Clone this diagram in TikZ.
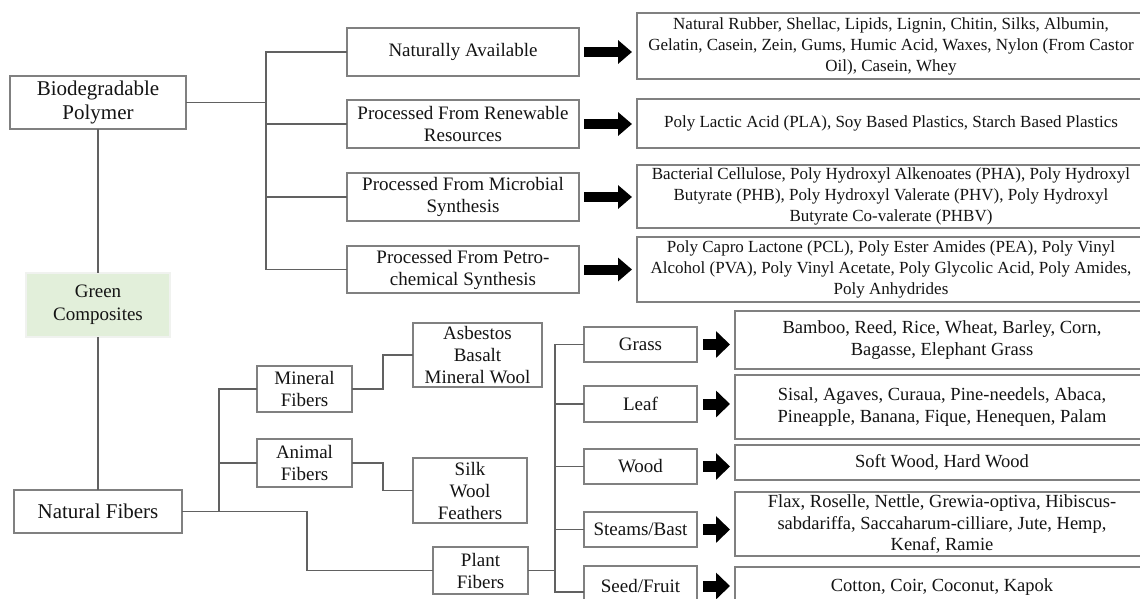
\documentclass[tikz,border=0pt]{standalone}
\usepackage{fontspec}
\setmainfont{Liberation Serif}
\usepackage{xcolor}
\usetikzlibrary{arrows.meta}
\definecolor{greenfill}{HTML}{E2EFDA}
\tikzset{x=1pt, y=-1pt,
 box/.style={draw=black!50, line width=1.1pt, fill=white, text=black!92,
   align=center, inner sep=1pt, outer sep=0pt, font=\fontsize{19}{22}\selectfont},
 rootbox/.style={box, font=\fontsize{21}{24}\selectfont},
 greenbox/.style={rootbox, draw=greenfill!80!black!20, fill=greenfill, font=\fontsize{19}{23}\selectfont},
 listbox/.style={box, font=\fontsize{17}{21}\selectfont},
 leaflist/.style={box, font=\fontsize{18.5}{21.5}\selectfont},
 link/.style={draw=black!62, line width=1.2pt},
 fatarrow/.style={draw=black, line width=10pt, -{Triangle[length=14pt,width=23pt]}},
 fatarrowb/.style={draw=black, line width=11pt, -{Triangle[length=14pt,width=26pt]}},
 }

\begin{document}
\begin{tikzpicture}
        \useasboundingbox (0,0) rectangle (1140,598);
        \clip (0,0) rectangle (1140,598);
        \node[rootbox, minimum width=176, minimum height=53] (bp) at (98,102.5) {Biodegradable\\Polymer};
        \node[greenbox, minimum width=144, minimum height=64] (gc) at (98,305) {Green\\Composites};
        \node[rootbox, minimum width=168, minimum height=43] (nf) at (98,511.5) {Natural Fibers};
        \draw[link] (bp) -- (gc);
        \draw[link] (gc) -- (nf);

        \node[box, minimum width=232, minimum height=48] (na) at (463,52) {Naturally Available};
        \node[box, minimum width=232, minimum height=48] (prr) at (463,124) {Processed From Renewable\\Resources};
        \node[box, minimum width=232, minimum height=48] (pms) at (463,197) {Processed From Microbial\\Synthesis};
        \node[box, minimum width=232, minimum height=47] (ppc) at (463,269.5) {Processed From Petro-\\chemical Synthesis};
        \coordinate (pt) at (266,102.5);
        \draw[link] (bp.east) -- (pt);
        \foreach \n in {na,prr,pms,ppc}
            \draw[link] (pt) |- (\n.west);

        \node[listbox, minimum width=508, minimum height=66] (nal) at (891,46) {Natural Rubber, Shellac, Lipids, Lignin, Chitin, Silks, Albumin,\\Gelatin, Casein, Zein, Gums, Humic Acid, Waxes, Nylon (From Castor\\Oil), Casein, Whey};
        \node[listbox, minimum width=508, minimum height=49] (prrl) at (891,123.5) {Poly Lactic Acid (PLA), Soy Based Plastics, Starch Based Plastics};
        \node[listbox, minimum width=508, minimum height=63] (pmsl) at (891,196.5) {Bacterial Cellulose, Poly Hydroxyl Alkenoates (PHA), Poly Hydroxyl\\Butyrate (PHB), Poly Hydroxyl Valerate (PHV), Poly Hydroxyl\\Butyrate Co-valerate (PHBV)};
        \node[listbox, minimum width=508, minimum height=65] (ppcl) at (891,269.5) {Poly Capro Lactone (PCL), Poly Ester Amides (PEA), Poly Vinyl\\Alcohol (PVA), Poly Vinyl Acetate, Poly Glycolic Acid, Poly Amides,\\Poly Anhydrides};
        \foreach \n in {na,prr,pms,ppc}
            \draw[fatarrow, shorten <=5pt, shorten >=5pt] (\n.east) -- (\n.east -| \n l.west);

        \node[box, minimum width=95, minimum height=46] (mf) at (304.5,389) {Mineral\\Fibers};
        \node[box, minimum width=95, minimum height=48] (af) at (304.5,463) {Animal\\Fibers};
        \node[box, minimum width=95, minimum height=47] (pf) at (480.5,570.5) {Plant\\Fibers};
        \node[box, minimum width=129, minimum height=64] (abm) at (477.5,355) {Asbestos\\Basalt\\Mineral Wool};
        \node[box, minimum width=114, minimum height=65] (swf) at (470,490.5) {Silk\\Wool\\Feathers};
        \coordinate (nt) at (219,511.5);
        \draw[link] (nf.east) -- (nt);
        \draw[link] (nt) |- (mf.west);
        \draw[link] (nt) |- (af.west);
        \draw[link] (nt) -- ++(88,0) |- (pf.west);
        \draw[link] (mf.east) -- ++(31,0) |- (abm.west);
        \draw[link] (af.east) -- ++(31,0) |- (swf.west);

        \node[box, minimum width=113, minimum height=35] (gr) at (640.5,344.5) {Grass};
        \node[box, minimum width=113, minimum height=36] (lf) at (640.5,404) {Leaf};
        \node[box, minimum width=113, minimum height=35] (wd) at (640.5,466.5) {Wood};
        \node[box, minimum width=113, minimum height=35] (sb) at (640.5,529.5) {Steams/Bast};
        \node[box, minimum width=113, minimum height=40] (sf) at (640.5,586) {Seed/Fruit};
        \coordinate (ct) at (555,570.5);
        \draw[link] (pf.east) -- (ct);
        \foreach \n in {gr,lf,wd,sb}
            \draw[link] (ct) |- (\n.west);
        \draw[link] (ct) |- ([yshift=-6pt]sf.west);

        \node[leaflist, minimum width=414, minimum height=58] (grl) at (942,340) {Bamboo, Reed, Rice, Wheat, Barley, Corn,\\Bagasse, Elephant Grass};
        \node[leaflist, minimum width=414, minimum height=64] (lfl) at (942,407) {Sisal, Agaves, Curaua, Pine-needels, Abaca,\\Pineapple, Banana, Fique, Henequen, Palam};
        \node[leaflist, minimum width=414, minimum height=35] (wdl) at (942,462.5) {Soft Wood, Hard Wood};
        \node[leaflist, minimum width=414, minimum height=64] (sbl) at (942,524) {Flax, Roselle, Nettle, Grewia-optiva, Hibiscus-\\sabdariffa, Saccaharum-cilliare, Jute, Hemp,\\Kenaf, Ramie};
        \node[leaflist, minimum width=414, minimum height=40] (sfl) at (942,587) {Cotton, Coir, Coconut, Kapok};
        \foreach \n in {gr,lf,wd,sb,sf}
            \draw[fatarrowb, shorten <=6pt, shorten >=5pt] (\n.east) -- (\n.east -| \n l.west);
    \end{tikzpicture}
\end{document}
